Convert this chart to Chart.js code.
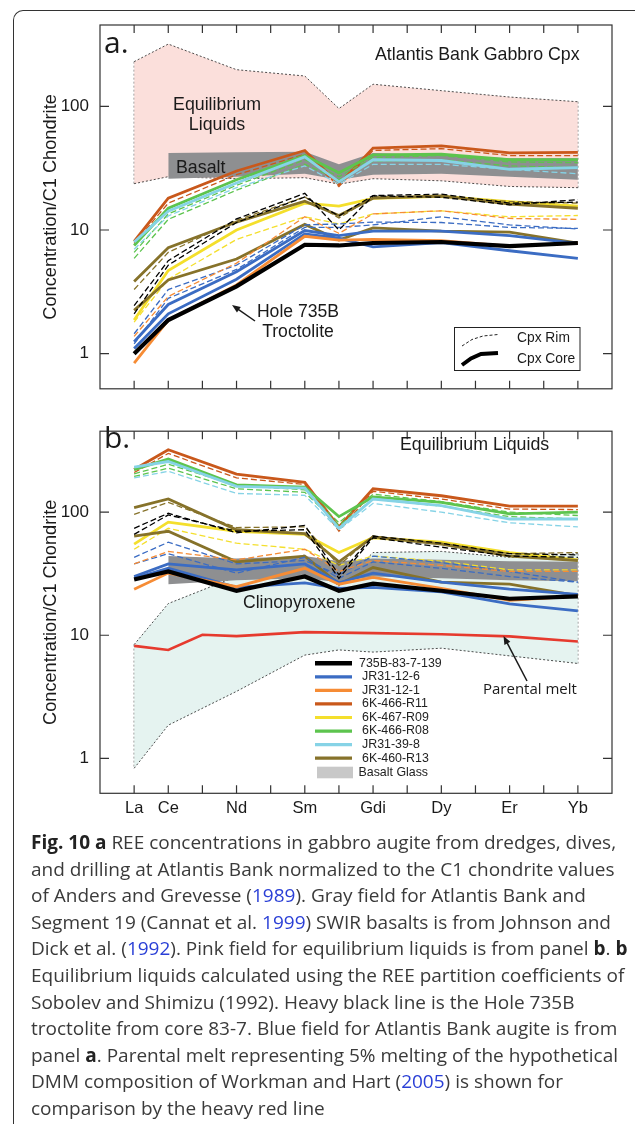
<!DOCTYPE html>
<html>
<head>
<meta charset="utf-8">
<script src="https://cdn.jsdelivr.net/npm/chart.js@4.4.0/dist/chart.umd.min.js"></script>
<style>
body{margin:0;background:#fff;width:635px;height:1124px;overflow:hidden;position:relative;font-family:'Liberation Sans',Arial,sans-serif}
.box{position:absolute;left:13px;top:10px;width:700px;height:1200px;border-left:1.5px solid #333;border-top:1.5px solid #333;border-top-left-radius:10px}
#ca{position:absolute;left:0;top:0}
#cb{position:absolute;left:0;top:410px}
.cap{position:absolute;left:31px;top:829px;font-family:'Open Sans',sans-serif;font-size:19px;line-height:26.6px;color:#3a3a3a;white-space:nowrap}
.cap b{color:#222}
.cap span{color:#2a3fd6}
</style>
</head>
<body>
<div class="box"></div>
<canvas id="ca" width="635" height="410"></canvas>
<canvas id="cb" width="635" height="420"></canvas>
<div class="cap">
<b>Fig. 10 a</b> REE concentrations in gabbro augite from dredges, dives,<br>
and drilling at Atlantis Bank normalized to the C1 chondrite values<br>
of Anders and Grevesse (<span>1989</span>). Gray field for Atlantis Bank and<br>
Segment 19 (Cannat et al. <span>1999</span>) SWIR basalts is from Johnson and<br>
Dick et al. (<span>1992</span>). Pink field for equilibrium liquids is from panel <b>b</b>. <b>b</b><br>
Equilibrium liquids calculated using the REE partition coefficients of<br>
Sobolev and Shimizu (1992). Heavy black line is the Hole 735B<br>
troctolite from core 83-7. Blue field for Atlantis Bank augite is from<br>
panel <b>a</b>. Parental melt representing 5% melting of the hypothetical<br>
DMM composition of Workman and Hart (<span>2005</span>) is shown for<br>
comparison by the heavy red line
</div>
<script>
// x axis = all REE positions, only some get a label
var elements = ['La','Ce','Pr','Nd','Pm','Sm','Eu','Gd','Tb','Dy','Ho','Er','Tm','Yb'];
var tickNames = ['La','Ce','','Nd','','Sm','','Gdi','','Dy','','Er','','Yb'];
var yTicks = [1, 10, 100];

var ree = ['La','Ce','Nd','Sm','Eu','Gd','Dy','Er','Yb'];
var reeBand = ['Ce','Nd','Sm','Eu','Gd','Dy','Er','Yb'];
var reeMelt = ['La','Ce','Pr','Nd','Sm','Gd','Dy','Er','Yb'];

var samples = ['735B-83-7-139','JR31-12-6','JR31-12-1','6K-466-R11','6K-467-R09','6K-466-R08','JR31-39-8','6K-460-R13'];
var colors = ['#000000','#3b6cc3','#f68c35','#c9581b','#f4df2c','#5dc44e','#86d3e6','#86722a'];

// ---- panel a : cpx ----
var a735Core = [1.0, 1.87, 3.5, 7.6, 7.5, 7.85, 8.0, 7.4, 7.85];
var a735Rim = [2.45, 5.65, 12.3, 19.8, 10.0, 18.9, 18.4, 16.0, 17.6];
var a735Rim2 = [2.1, 5.2, 11.5, 18.5, 13.0, 19.0, 19.5, 16.5, 16.8];
var a126Core = [1.1, 2.1, 4.0, 9.3, 8.6, 7.3, 7.9, 6.8, 5.9];
var a126Core2 = [1.25, 2.5, 4.6, 9.9, 9.0, 9.8, 9.8, 9.0, 7.8];
var a126Rim = [1.45, 3.3, 5.2, 11.0, 11.2, 11.6, 11.5, 10.5, 10.3];
var a126Rim2 = [1.2, 2.8, 4.8, 10.5, 10.5, 11.0, 12.8, 11.0, 10.2];
var a121Core = [0.84, 1.87, 3.6, 8.9, 8.3, 8.4, 8.2, 7.4, 7.85];
var a121Rim = [1.38, 2.9, 5.4, 12.8, 9.4, 13.5, 14.3, 12.4, 12.2];
var aR11Core = [8.1, 18.1, 30, 44, 23.5, 46, 48, 42, 42.5];
var aR11Rim = [7.8, 16.5, 28, 41, 22.5, 44, 45.5, 40, 40];
var aR09Core = [1.87, 4.7, 10.0, 16.5, 15.6, 18.0, 18.7, 17.0, 15.6];
var aR09Rim = [1.8, 4.0, 8.4, 12.8, 11.2, 13.5, 14.3, 12.8, 13.1];
var aR08Core = [7.5, 15, 25.5, 40, 29, 40.5, 41, 37, 37];
var aR08Rim = [6.6, 13.5, 23, 37, 27, 38.5, 40, 35.5, 35];
var aR08Rim2 = [5.9, 12.2, 21, 34, 25.5, 36, 37, 33, 32];
var a398Core = [8.0, 14.2, 24, 39, 24.5, 37, 36.5, 31, 32];
var a398Rim = [7.0, 13, 22, 33, 23.5, 34, 34, 31, 28.5];
var aR13Core = [3.84, 7.2, 11.6, 17.1, 13.1, 18.1, 18.9, 16.2, 15.0];
var aR13Core2 = [2.24, 3.95, 5.83, 11.1, 8.3, 10.4, 9.8, 9.6, 7.85];
var aR13Rim = [3.3, 6.6, 12.0, 18.5, 12.5, 18.5, 18.5, 17.0, 16.5];
var liqUpper = [230, 319, 198, 176, 96, 151, 134, 119, 109];
var liqLower = [23.7, 27, 26, 26.5, 23.5, 26, 25, 22.5, 22];
var basaltTopA = [42, 42.5, 43, 34, 42, 40.5, 38, 38];
var basaltBotA = [26, 27, 28.5, 25.5, 28, 28.5, 27, 25.5];

// ---- panel b : equilibrium liquids ----
var b735Core = [28.4, 33, 23, 30, 23, 26.3, 23, 19.8, 20.7];
var b735Rim = [74, 98, 68, 78, 31, 64, 56, 46, 45];
var b735Rim2 = [66, 95, 70, 72, 29, 62, 52, 44, 43];
var b126Core = [30, 38, 34, 38, 26.7, 32, 27, 23.7, 21.5];
var b126Core2 = [29, 35, 24.5, 26.6, 24, 24.5, 22.5, 18, 15.8];
var b126Rim = [43, 57, 38, 40.5, 31, 44, 39, 33, 27];
var b126Rim2 = [38, 46, 32, 43, 29, 39.5, 35, 30, 27];
var b121Core = [23.7, 32, 24.8, 35, 26, 29.5, 24, 19.2, 20.8];
var b121Rim = [38, 48, 41, 50, 33, 40.5, 37, 33, 33];
var bR11Core = [222, 322, 204, 175, 76, 155, 136, 112, 112];
var bR11Rim = [210, 300, 190, 168, 70, 148, 128, 106, 105];
var bR09Core = [55, 83, 70, 66, 47, 62, 57, 47, 41];
var bR09Rim = [50, 74, 56, 50, 37, 44, 40, 34, 34];
var bR08Core = [222, 270, 167, 160, 92, 133, 120, 97, 100];
var bR08Rim = [205, 245, 165, 152, 82, 140, 122, 100, 94];
var bR08Rim2 = [195, 228, 155, 145, 78, 128, 112, 92, 88];
var b398Core = [232, 258, 162, 157, 74, 128, 113, 88, 88];
var b398Rim = [190, 215, 142, 137, 72, 118, 100, 82, 76];
var bR13Core = [109, 128, 72, 67, 39.5, 63, 55, 44, 40.5];
var bR13Core2 = [64, 70, 39.5, 44, 26, 35.5, 27, 26, 21];
var bR13Rim = [96, 120, 75, 76, 37, 64, 56, 46, 47];
var cpxUpper = [8.4, 18.1, 30, 45, 25, 47, 48, 43, 46];
var cpxLower = [0.83, 1.86, 3.5, 6.9, 7.6, 7.3, 7.85, 6.8, 5.9];
var basaltTopB = [44, 42, 44, 40, 42, 41, 40, 39.5];
var basaltBotB = [26, 28, 29, 27, 30, 29, 28, 27.5];
var parentalMelt = [8.2, 7.6, 10.1, 9.85, 10.6, 10.4, 10.2, 9.8, 8.9];

var PINK = '#fbdfdb', TEAL = '#e5f3f0', GRAY = '#8e8f91';

function pts(els, vals) {
  return els.map(function (e, i) { return { x: elements.indexOf(e), y: vals[i] }; });
}
function core(vals, c, w) {
  return { data: pts(ree, vals), borderColor: c, borderWidth: w || 2.8, pointRadius: 0, fill: false, order: 1 };
}
function rim(vals, c) {
  return { data: pts(ree, vals), borderColor: c, borderWidth: 1.3, borderDash: [6, 3], pointRadius: 0, fill: false, order: 1 };
}
// field between two boundary arrays, dashed edges optional
function field(list, els, up, low, color, dashed, order) {
  var lo = list.length;
  var edge = dashed ? { borderColor: '#222', borderWidth: 0.8, borderDash: [2, 2] } : { borderWidth: 0 };
  list.push(Object.assign({ data: pts(els, low), pointRadius: 0, fill: false, order: order }, edge));
  list.push(Object.assign({ data: pts(els, up), pointRadius: 0, fill: lo, backgroundColor: color, order: order }, edge));
  if (dashed) {
    var n = els.length - 1;
    list.push(Object.assign({ data: [{ x: elements.indexOf(els[0]), y: up[0] }, { x: elements.indexOf(els[0]), y: low[0] }], pointRadius: 0, fill: false, order: order }, edge));
    list.push(Object.assign({ data: [{ x: elements.indexOf(els[n]), y: up[n] }, { x: elements.indexOf(els[n]), y: low[n] }], pointRadius: 0, fill: false, order: order }, edge));
  }
}

var dsA = [
  core(a735Core, colors[0], 4.2),
  rim(a735Rim, colors[0]), rim(a735Rim2, colors[0]),
  core(a121Core, colors[2]), rim(a121Rim, colors[2]),
  core(a126Core, colors[1]), core(a126Core2, colors[1]), rim(a126Rim, colors[1]), rim(a126Rim2, colors[1]),
  core(aR13Core, colors[7]), core(aR13Core2, colors[7]), rim(aR13Rim, colors[7]),
  core(aR09Core, colors[4]), rim(aR09Rim, colors[4]),
  core(a398Core, colors[6]), rim(a398Rim, colors[6]),
  core(aR08Core, colors[5]), rim(aR08Rim, colors[5]), rim(aR08Rim2, colors[5]),
  core(aR11Core, colors[3]), rim(aR11Rim, colors[3])
];
field(dsA, reeBand, basaltTopA, basaltBotA, GRAY, false, 5);
field(dsA, ree, liqUpper, liqLower, PINK, true, 8);

var dsB = [
  core(b735Core, colors[0], 4.2),
  rim(b735Rim, colors[0]), rim(b735Rim2, colors[0]),
  core(b121Core, colors[2]), rim(b121Rim, colors[2]),
  core(b126Core, colors[1]), core(b126Core2, colors[1]), rim(b126Rim, colors[1]), rim(b126Rim2, colors[1]),
  core(bR13Core, colors[7]), core(bR13Core2, colors[7]), rim(bR13Rim, colors[7]),
  core(bR09Core, colors[4]), rim(bR09Rim, colors[4]),
  core(b398Core, colors[6]), rim(b398Rim, colors[6]),
  core(bR08Core, colors[5]), rim(bR08Rim, colors[5]), rim(bR08Rim2, colors[5]),
  core(bR11Core, colors[3]), rim(bR11Rim, colors[3]),
  { data: pts(reeMelt, parentalMelt), borderColor: '#e63a2e', borderWidth: 2.6, pointRadius: 0, fill: false, order: 2 }
];
field(dsB, reeBand, basaltTopB, basaltBotB, GRAY, false, 5);
field(dsB, ree, cpxUpper, cpxLower, TEAL, true, 8);

// frame + inward ticks
var frame = {
  id: 'frame',
  afterDatasetsDraw: function (chart) {
    var c = chart.ctx, a = chart.chartArea, x = chart.scales.x, y = chart.scales.y;
    c.save();
    c.strokeStyle = '#333'; c.lineWidth = 1.2;
    c.strokeRect(a.left, a.top, a.right - a.left, a.bottom - a.top);
    c.beginPath();
    elements.forEach(function (e, i) {
      var px = x.getPixelForValue(i);
      c.moveTo(px, a.top); c.lineTo(px, a.top + 8);
      c.moveTo(px, a.bottom); c.lineTo(px, a.bottom - 8);
    });
    yTicks.forEach(function (v) {
      var py = y.getPixelForValue(v);
      c.moveTo(a.left, py); c.lineTo(a.left + 9, py);
      c.moveTo(a.right, py); c.lineTo(a.right - 9, py);
    });
    c.stroke();
    c.restore();
  }
};

function txt(c, s, x, y, font, align) {
  c.font = font; c.textAlign = align || 'left'; c.textBaseline = 'middle'; c.fillText(s, x, y);
}
function arrow(c, x1, y1, x2, y2) {
  var ang = Math.atan2(y2 - y1, x2 - x1);
  c.beginPath(); c.moveTo(x1, y1); c.lineTo(x2 - 5 * Math.cos(ang), y2 - 5 * Math.sin(ang)); c.stroke();
  c.beginPath();
  c.moveTo(x2, y2);
  c.lineTo(x2 - 9 * Math.cos(ang - 0.38), y2 - 9 * Math.sin(ang - 0.38));
  c.lineTo(x2 - 9 * Math.cos(ang + 0.38), y2 - 9 * Math.sin(ang + 0.38));
  c.closePath(); c.fill();
}
var F = '"Liberation Sans", Arial, sans-serif';

var notesA = {
  id: 'notesA',
  afterDraw: function (chart) {
    var c = chart.ctx;
    c.save();
    c.fillStyle = '#1a1a1a'; c.strokeStyle = '#1a1a1a'; c.lineWidth = 1.5;
    c.font = '30px "Open Sans"'; c.textAlign = 'left'; c.textBaseline = 'alphabetic'; c.fillText('a.', 104, 53);
    txt(c, 'Atlantis Bank Gabbro Cpx', 375, 55, '17.8px ' + F);
    txt(c, 'Equilibrium', 217, 105, '17.8px ' + F, 'center');
    txt(c, 'Liquids', 217, 125, '17.8px ' + F, 'center');
    txt(c, 'Basalt', 176, 168, '17.8px ' + F);
    txt(c, 'Hole 735B', 298, 312, '17.6px ' + F, 'center');
    txt(c, 'Troctolite', 298, 332, '17.6px ' + F, 'center');
    arrow(c, 255, 321, 232, 305);
    // core / rim key
    c.lineWidth = 1; c.strokeStyle = '#222';
    c.strokeRect(454.5, 327.5, 125.5, 43);
    c.setLineDash([3, 2]);
    c.beginPath(); c.moveTo(462, 346); c.lineTo(472, 339.5); c.lineTo(483, 336); c.lineTo(498, 334.5); c.stroke();
    c.setLineDash([]);
    c.lineWidth = 4; c.strokeStyle = '#000';
    c.beginPath(); c.moveTo(462, 365); c.lineTo(471, 358.5); c.lineTo(481, 354); c.lineTo(498, 353); c.stroke();
    txt(c, 'Cpx Rim', 517, 338.5, '13.8px ' + F);
    txt(c, 'Cpx Core', 517, 359.5, '13.8px ' + F);
    c.restore();
  }
};

var notesB = {
  id: 'notesB',
  afterDraw: function (chart) {
    var c = chart.ctx;
    c.save();
    c.fillStyle = '#1a1a1a'; c.strokeStyle = '#1a1a1a'; c.lineWidth = 1.5;
    c.font = '30px "Open Sans"'; c.textAlign = 'left'; c.textBaseline = 'alphabetic'; c.fillText('b.', 104, 38);
    txt(c, 'Equilibrium Liquids', 400, 35, '17.8px ' + F);
    txt(c, 'Clinopyroxene', 243, 193, '17.6px ' + F);
    txt(c, 'Parental melt', 483, 280, '15px "Open Sans"');
    arrow(c, 527, 271, 503.5, 226);
    // legend
    samples.forEach(function (s, i) {
      var yy = 253.3 + 13.55 * i;
      c.strokeStyle = colors[i]; c.lineWidth = i === 0 ? 4.5 : 3.2;
      c.beginPath(); c.moveTo(315, yy); c.lineTo(352, yy); c.stroke();
      c.fillStyle = '#222';
      txt(c, s, i === 0 ? 359 : 362, yy, '12.4px ' + F);
    });
    c.fillStyle = '#c8c8c8'; c.fillRect(317, 356.7, 36, 11.6);
    c.fillStyle = '#222';
    txt(c, 'Basalt Glass', 358.5, 363, '12.4px ' + F);
    c.restore();
  }
};

function yAxis() {
  return {
    type: 'logarithmic', min: 0.52, max: 455, bounds: 'data',
    afterFit: function (s) { s.width = 100; },
    afterBuildTicks: function (s) { s.ticks = yTicks.map(function (v) { return { value: v }; }); },
    grid: { display: false, drawTicks: false }, border: { display: false },
    ticks: { color: '#1a1a1a', padding: 11, font: { size: 17, family: 'Liberation Sans' }, callback: function (v) { return String(v); } },
    title: { display: true, text: 'Concentration/C1 Chondrite', color: '#1a1a1a', font: { size: 18.2, family: 'Liberation Sans' }, padding: { top: 40, bottom: 0 } }
  };
}
function xAxis(showLabels) {
  return {
    type: 'linear', min: -1, max: 14, display: true,
    afterBuildTicks: function (s) { s.ticks = elements.map(function (e, i) { return { value: i }; }); },
    afterFit: function (s) { s.height = showLabels ? 36.7 : 0; },
    grid: { display: false, drawTicks: false }, border: { display: false },
    ticks: { display: showLabels, autoSkip: false, maxRotation: 0, padding: 5, color: '#1a1a1a', font: { size: 16.5, family: 'Liberation Sans' }, callback: function (v) { return tickNames[v]; } }
  };
}
function opts(pad, showLabels) {
  return {
    responsive: false, animation: false, devicePixelRatio: 1,
    layout: { padding: pad },
    elements: { line: { tension: 0 } },
    plugins: { legend: { display: false }, tooltip: { enabled: false } },
    scales: { x: xAxis(showLabels), y: yAxis() }
  };
}

new Chart(document.getElementById('ca'), {
  type: 'line',
  data: { datasets: dsA },
  options: opts({ top: 25, right: 23, bottom: 7.3, left: 0 }, false),
  plugins: [frame, notesA]
});
new Chart(document.getElementById('cb'), {
  type: 'line',
  data: { datasets: dsB },
  options: opts({ top: 6.7, right: 23, bottom: 0, left: 0 }, true),
  plugins: [frame, notesB]
});
</script>
</body>
</html>
